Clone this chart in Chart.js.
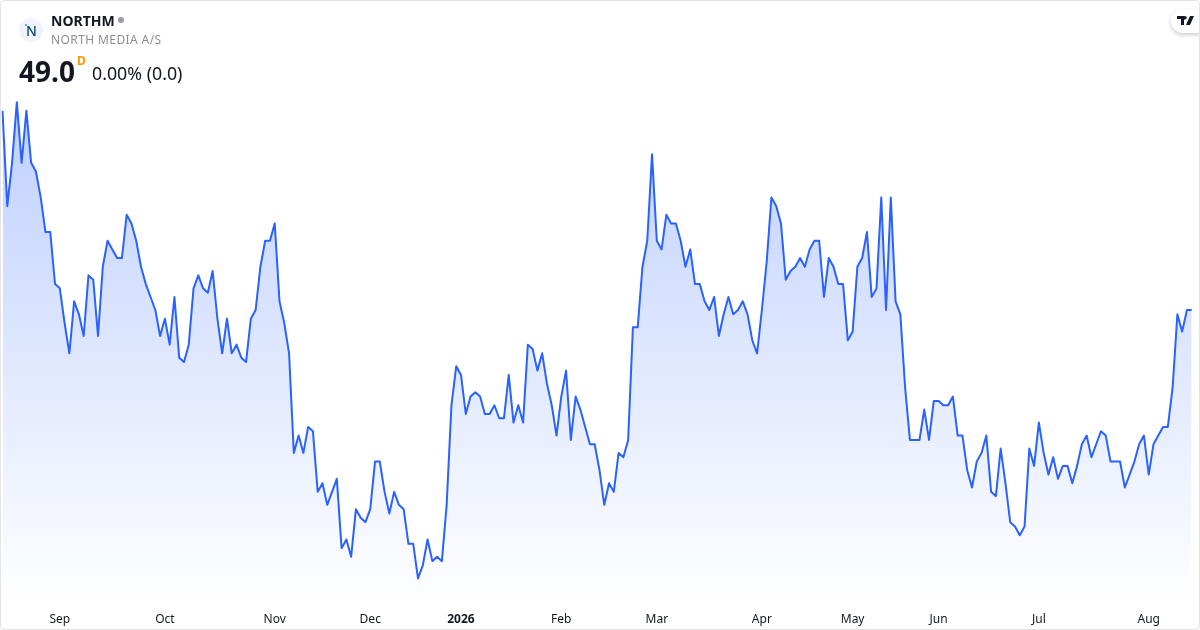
<!DOCTYPE html>
<html>
<head>
<meta charset="utf-8">
<title>NORTHM</title>
<script src="https://cdn.jsdelivr.net/npm/chart.js@4"></script>
<style>
  html, body { margin: 0; padding: 0; background: #fff; }
  body { width: 1200px; height: 630px; overflow: hidden; position: relative; font-family: "Noto Sans", sans-serif; color: #131722; }
  #chart { position: absolute; left: 0; top: 0; }
  .frame { position: absolute; left: 0; top: 0; width: 1198px; height: 628px; border: 1px solid #e3e4e8; border-radius: 4px; pointer-events: none; }
  .abs { position: absolute; white-space: nowrap; line-height: 1; }
  .logo { left: 19px; top: 18px; width: 24px; height: 24px; border-radius: 50%; background: #f0f3fa; }
  .logo span { position: absolute; left: 7px; top: 6px; font-size: 14px; line-height: 1; color: #0c4a72; font-weight: 500; }
  .logo i { position: absolute; left: 6px; top: 6px; width: 2px; height: 2px; border-radius: 50%; background: #1a9ad6; }
  .badge { left: 1171px; top: 9px; width: 40px; height: 24px; border-radius: 12px; background: #fff; box-shadow: 0 2px 4px rgba(0,0,0,.2); }
  .clip { position: absolute; left: 0; top: 0; width: 1199px; height: 630px; overflow: hidden; }
</style>
</head>
<body>
<canvas id="chart" width="1200" height="630"></canvas>
<div class="clip">
  <div class="abs badge"></div>
  <svg class="abs" style="left:1177px;top:16px" width="18" height="10" viewBox="0 0 18 10">
    <path d="M0 0h7v9H4V3H0z M8 0a1.7 1.7 0 1 1 0 3.4A1.7 1.7 0 0 1 8 0z M13 0h4l-4 9H9z" fill="#131722"/>
  </svg>
</div>
<div class="frame"></div>
<div class="abs logo"><i></i><span>N</span></div>
<div class="abs" style="left:51px;top:14px;font-size:14px;font-weight:700">NORTHM</div>
<div class="abs" style="left:118px;top:17px;width:6px;height:6px;border-radius:50%;background:#9a9da6"></div>
<div class="abs" style="left:51px;top:34px;font-size:12px;letter-spacing:.4px;color:#8c8f98">NORTH MEDIA A/S</div>
<div class="abs" style="left:19px;top:57px;font-size:28px;font-weight:700">49.0</div>
<div class="abs" style="left:77px;top:55px;font-size:12px;font-weight:700;color:#ff9800">D</div>
<div class="abs" style="left:92px;top:65px;font-size:17.8px">0.00% (0.0)</div>

<script>
// Daily closes
const prices = [
  53.6,51.4,52.4,53.8,52.4,53.6,52.4,52.2,51.6,50.8,50.8,49.6,49.5,48.7,48.0,49.2,48.9,48.4,49.8,49.7,
  48.4,50.0,50.6,50.4,50.2,50.2,51.2,51.0,50.6,50.0,49.6,49.3,49.0,48.4,48.8,48.2,49.3,47.9,47.8,48.2,
  49.5,49.8,49.5,49.4,49.9,48.8,48.0,48.8,48.0,48.2,47.9,47.8,48.8,49.0,50.0,50.6,50.6,51.0,49.2,48.7,
  48.0,45.7,46.1,45.7,46.3,46.2,44.8,45.0,44.5,44.8,45.1,43.5,43.7,43.3,44.4,44.2,44.1,44.4,45.5,45.5,
  44.8,44.3,44.8,44.5,44.4,43.6,43.6,42.8,43.1,43.7,43.2,43.3,43.2,44.5,46.8,47.7,47.5,46.6,47.0,47.1,
  47.0,46.6,46.6,46.8,46.5,46.5,47.5,46.4,46.8,46.4,48.2,48.1,47.6,48.0,47.3,46.8,46.1,47.0,47.6,46.0,
  47.0,46.7,46.3,45.9,45.9,45.3,44.5,45.0,44.8,45.7,45.6,46.0,48.6,48.6,50.0,50.6,52.6,50.6,50.4,51.2,
  51.0,51.0,50.6,50.0,50.4,49.6,49.6,49.2,49.0,49.3,48.4,48.9,49.3,48.9,49.0,49.2,48.9,48.3,48.0,49.0,
  50.1,51.6,51.4,51.0,49.7,49.9,50.0,50.2,50.0,50.4,50.6,50.6,49.3,50.2,50.0,49.6,49.6,48.3,48.5,50.0,
  50.2,50.8,49.3,49.5,51.6,49.0,51.6,49.2,48.9,47.2,46.0,46.0,46.0,46.7,46.0,46.9,46.9,46.8,46.8,47.0,
  46.1,46.1,45.3,44.9,45.5,45.7,46.1,44.8,44.7,45.8,45.0,44.1,44.0,43.8,44.0,45.8,45.4,46.4,45.7,45.2,
  45.6,45.1,45.4,45.4,45.0,45.4,45.9,46.1,45.6,45.9,46.2,46.1,45.5,45.5,45.5,44.9,45.2,45.5,45.9,46.1,
  45.2,45.9,46.1,46.3,46.3,47.2,48.9,48.5,49.0,49.0
];
const tickLabels = ['Sep','Oct','Nov','Dec','2026','Feb','Mar','Apr','May','Jun','Jul','Aug'];
const tickIndexes = [12,34,57,77,96,117,137,159,178,196,217,240];

const labels = prices.map((p, i) => {
  const k = tickIndexes.indexOf(i);
  return k >= 0 ? tickLabels[k] : '';
});

function areaFill(ctx){
  const chart = ctx.chart;
  if(!chart.chartArea) return 'rgba(41,98,255,0.3)';
  const y = chart.scales.y;
  const g = chart.ctx.createLinearGradient(0, y.getPixelForValue(Math.max(...prices)), 0, chart.chartArea.bottom);
  g.addColorStop(0, 'rgba(41,98,255,0.3)');
  g.addColorStop(1, 'rgba(41,98,255,0)');
  return g;
}

new Chart(document.getElementById('chart'), {
  type: 'line',
  data: {
    labels: labels,
    datasets: [{
      data: prices,
      borderColor: '#2962ff',
      borderWidth: 2,
      borderJoinStyle: 'round',
      pointRadius: 0,
      tension: 0,
      fill: 'start',
      backgroundColor: areaFill
    }]
  },
  options: {
    responsive: false,
    animation: false,
    layout: { padding: { left: 2.5, right: 8.3, top: 0, bottom: 0 } },
    plugins: { legend: { display: false }, tooltip: { enabled: false } },
    scales: {
      x: {
        afterFit(scale){ scale.height = 26; },
        grid: { display: false },
        border: { display: false },
        ticks: {
          autoSkip: false,
          maxRotation: 0,
          padding: 0,
          color: '#131722',
          font: ctx => ({
            family: '"Noto Sans", sans-serif',
            size: 12,
            weight: ctx.tick && ctx.tick.label === '2026' ? '700' : '400'
          })
        }
      },
      y: { display: false, min: 42.21, max: 56.16 }
    }
  }
});
</script>
</body>
</html>
